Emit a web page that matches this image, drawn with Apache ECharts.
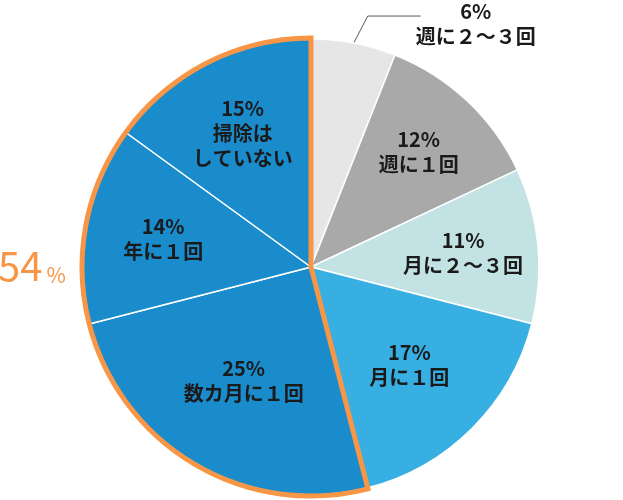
<!DOCTYPE html>
<html>
<head>
<meta charset="utf-8">
<script src="https://cdn.jsdelivr.net/npm/echarts@6/dist/echarts.min.js"></script>
<style>
  html, body { margin: 0; padding: 0; background: #fff; }
  #chart { width: 623px; height: 500px; }
</style>
</head>
<body>
<div id="chart"></div>
<script>
// Cleaning frequency shares
const categories = ['週に２～３回', '週に１回', '月に２～３回', '月に１回', '数カ月に１回', '年に１回', '掃除は\nしていない'];
const values = [6, 12, 11, 17, 25, 14, 15];
const sliceColors = ['#e7e6e6', '#a9a9a9', '#c2e2e3', '#37afe2', '#1a8ccc', '#1a8ccc', '#1a8ccc'];
// first index of the highlighted group (the three least frequent answers)
const groupStart = 4;

const total = values.reduce((a, b) => a + b, 0);
const groupValue = values.slice(groupStart).reduce((a, b) => a + b, 0);
const restValue = total - groupValue;

const CX = 311, CY = 267, R = 228;
const ORANGE = '#f79646';
// radial placement of the inner labels, as a fraction of the radius
const labelRadius = [null, 0.69, 0.67, 0.61, 0.58, 0.66, 0.66];

function midAngle(i) {
  let before = 0;
  for (let k = 0; k < i; k++) before += values[k];
  return (before + values[i] / 2) / total * Math.PI * 2;
}

const chart = echarts.init(document.getElementById('chart'), null, { renderer: 'canvas' });

const pieData = categories.map((name, i) => {
  const item = { name: name, value: values[i], itemStyle: { color: sliceColors[i] } };
  if (i === 0) {
    item.label = { position: 'outside' };
    item.labelLine = { show: true, lineStyle: { color: '#595959', width: 1 } };
  }
  return item;
});

chart.setOption({
  animation: false,
  textStyle: { fontFamily: '"Noto Sans CJK JP", "Noto Sans", sans-serif' },
  title: {
    text: '{a|' + groupValue + '}{b|%}',
    left: -2,
    top: 238,
    padding: 0,
    textStyle: {
      fontWeight: 'normal',
      rich: {
        a: { fontSize: 40, fontWeight: 'normal', color: ORANGE, fontFamily: '"Noto Sans CJK JP", sans-serif', verticalAlign: 'bottom', lineHeight: 48 },
        b: { fontSize: 21, fontWeight: 'normal', color: ORANGE, fontFamily: '"Noto Sans CJK JP", sans-serif', verticalAlign: 'bottom', lineHeight: 40, padding: [0, 0, 0, 4] }
      }
    }
  },
  series: [
    {
      type: 'pie',
      center: [CX, CY],
      radius: R,
      startAngle: 90,
      clockwise: true,
      avoidLabelOverlap: false,
      silent: true,
      itemStyle: { borderColor: '#ffffff', borderWidth: 1.5 },
      label: {
        show: true,
        position: 'inside',
        formatter: '{c}%\n{b}',
        color: '#1a1a1a',
        fontSize: 20,
        fontWeight: 'bold',
        lineHeight: 25,
        align: 'center',
        fontFamily: '"Noto Sans CJK JP", sans-serif'
      },
      labelLine: { show: false },
      labelLayout: function (p) {
        if (p.seriesIndex !== 0) return {};
        const i = p.dataIndex;
        const a = midAngle(i);
        if (i === 0) {
          const ex = CX + R * Math.sin(a), ey = CY - R * Math.cos(a);
          const p1 = [ex + 14, ey - 27];
          const p2 = [p1[0] + 53, p1[1]];
          return {
            x: p2[0] + 55,
            y: p2[1] + 8,
            align: 'center',
            verticalAlign: 'middle',
            labelLinePoints: [[ex, ey], p1, p2]
          };
        }
        const r = R * labelRadius[i];
        return {
          x: CX + r * Math.sin(a),
          y: CY - r * Math.cos(a),
          align: 'center',
          verticalAlign: 'middle'
        };
      },
      data: pieData
    },
    {
      // orange outline around the highlighted group
      type: 'pie',
      center: [CX, CY],
      radius: R + 1,
      startAngle: 90,
      clockwise: true,
      silent: true,
      z: 5,
      label: { show: false },
      labelLine: { show: false },
      data: [
        { value: restValue, itemStyle: { color: 'rgba(0,0,0,0)', borderWidth: 0 } },
        { value: groupValue, itemStyle: { color: 'rgba(0,0,0,0)', borderColor: ORANGE, borderWidth: 5, borderJoin: 'miter' } }
      ]
    }
  ]
});
</script>
</body>
</html>
